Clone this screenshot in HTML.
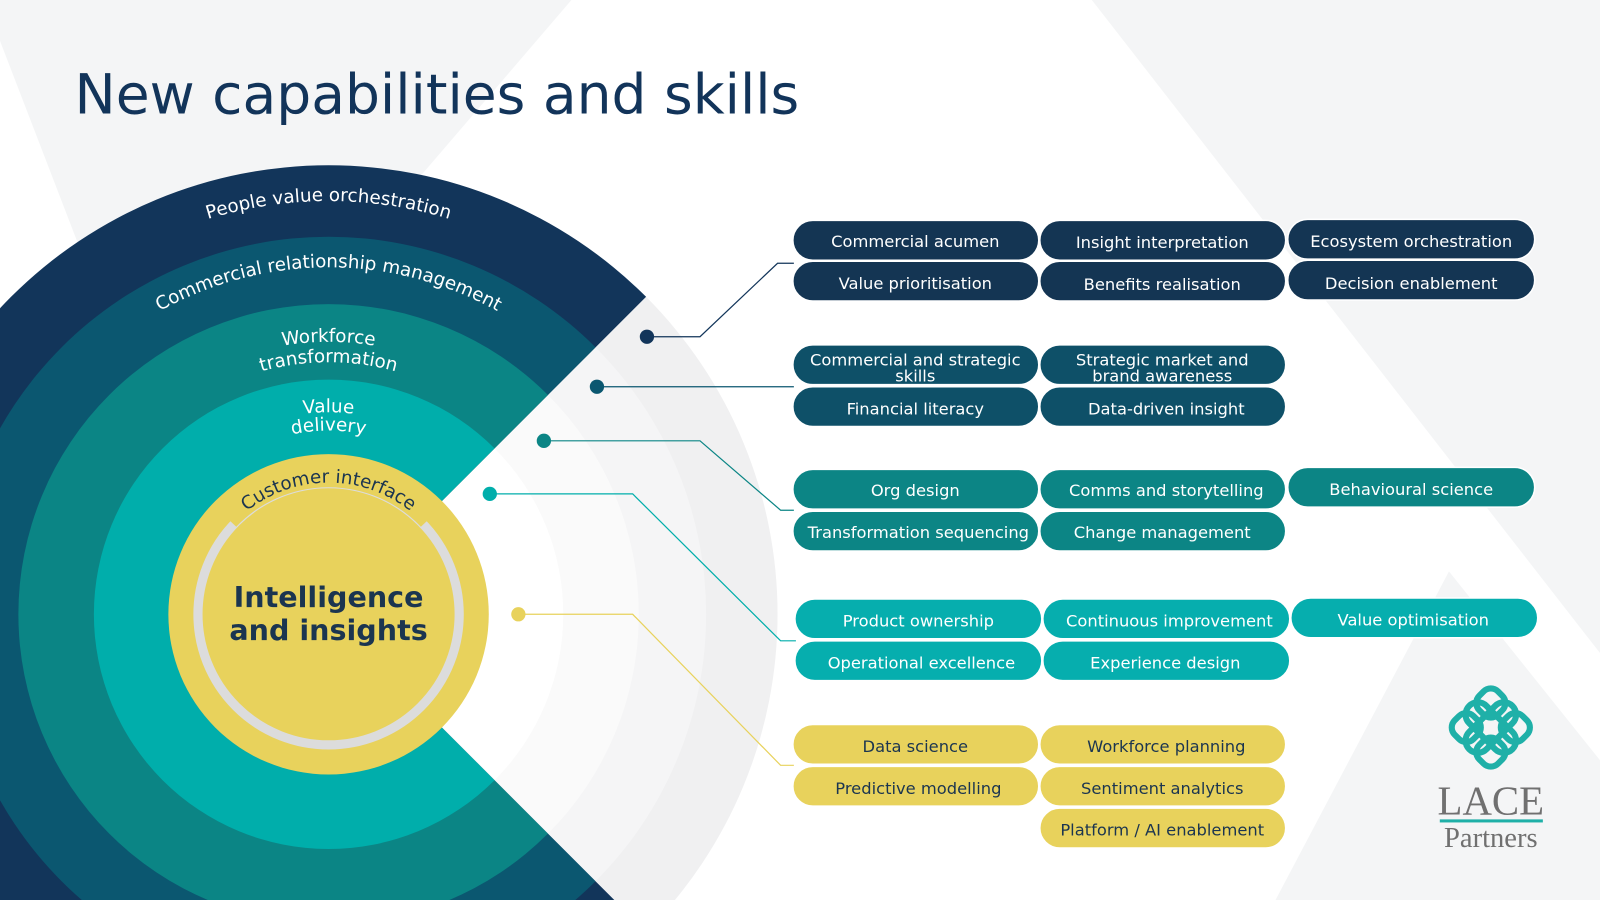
<!DOCTYPE html>
<html><head><meta charset="utf-8"><style>
html,body{margin:0;padding:0;background:#fff;width:1600px;height:900px;overflow:hidden;}
svg{display:block;}
.p{font-family:"DejaVu Sans","Liberation Sans",sans-serif;font-size:16px;fill:#fff;text-anchor:middle;}
</style></head><body>
<svg width="1600" height="900" viewBox="0 0 1568 882" preserveAspectRatio="none" xmlns="http://www.w3.org/2000/svg">
<rect width="1568" height="882" fill="#ffffff"/>
<polygon points="20,0 560,0 380,210 100,300 0,40 0,0" fill="#f4f5f6"/>
<polygon points="1070,0 1568,0 1568,640" fill="#f4f5f6"/>
<polygon points="1420,560 1568,745 1568,882 1250,882" fill="#f4f5f6"/>
<!-- grey rings in wedge -->
<circle cx="322" cy="602" r="440" fill="#f0f0f1"/>
<circle cx="322" cy="602" r="370" fill="#f5f5f6"/>
<circle cx="322" cy="602" r="304" fill="#fafafa"/>
<circle cx="322" cy="602" r="230" fill="#ffffff"/>
<defs>
<clipPath id="cut"><polygon points="322,602 1000,-76 -500,-76 -500,1300 1000,1280"/></clipPath>
<path id="a1" d="M -83 602 A 405 405 0 0 1 727 602"/>
<path id="a2" d="M -18 602 A 340 340 0 0 1 662 602"/>
<path id="a3" d="M 55 602 A 267 267 0 0 1 589 602"/>
<path id="a3b" d="M 75 602 A 247 247 0 0 1 569 602"/>
<path id="a4" d="M 124 602 A 198 198 0 0 1 520 602"/>
<path id="a4b" d="M 142 602 A 180 180 0 0 1 502 602"/>
<path id="a5" d="M 193 602 A 129 129 0 0 1 451 602"/>
</defs>
<g clip-path="url(#cut)">
<circle cx="322" cy="602" r="440" fill="#12355a"/>
<circle cx="322" cy="602" r="370" fill="#0b5770"/>
<circle cx="322" cy="602" r="304" fill="#0b8585"/>
<circle cx="322" cy="602" r="230" fill="#00aeab"/>
</g>
<circle cx="322" cy="602" r="157" fill="#e8d25c"/>
<circle cx="322" cy="602" r="128" fill="none" stroke="#dcdcdc" stroke-width="9"/>
<path d="M 225 510 A 134 134 0 0 1 419 510" fill="none" stroke="#e8d25c" stroke-width="18"/>
<g font-family="DejaVu Sans,Liberation Sans,sans-serif" fill="#fff" text-anchor="middle">
<text font-size="18"><textPath href="#a1" startOffset="50%">People value orchestration</textPath></text>
<text font-size="18"><textPath href="#a2" startOffset="50%">Commercial relationship management</textPath></text>
<text font-size="18"><textPath href="#a3" startOffset="50%">Workforce</textPath></text>
<text font-size="18"><textPath href="#a3b" startOffset="50%">transformation</textPath></text>
<text font-size="18"><textPath href="#a4" startOffset="50%">Value</textPath></text>
<text font-size="18"><textPath href="#a4b" startOffset="50%">delivery</textPath></text>
<text font-size="18" fill="#1b3550"><textPath href="#a5" startOffset="50%">Customer interface</textPath></text>
<text x="322" y="595" font-size="28" font-weight="bold" fill="#1b3550">Intelligence</text>
<text x="322" y="627" font-size="28" font-weight="bold" fill="#1b3550">and insights</text>
</g>
<text x="73" y="111" font-family="DejaVu Sans,Liberation Sans,sans-serif" font-size="54" fill="#12345a">New capabilities and skills</text>
<g fill="none" stroke-width="1.2">
<polyline points="634,330 686,330 762,258 778,258" stroke="#12355a"/>
<polyline points="585,379 778,379" stroke="#0b5770"/>
<polyline points="533,432 686,432 765,500 778,500" stroke="#0b8585"/>
<polyline points="480,484 620,484 765,628 780,628" stroke="#00aeab"/>
<polyline points="508,602 620,602 765,750 778,750" stroke="#e8d25c"/>
</g>
<circle cx="634" cy="330" r="7" fill="#12355a"/>
<circle cx="585" cy="379" r="7" fill="#0b5770"/>
<circle cx="533" cy="432" r="7" fill="#0b8585"/>
<circle cx="480" cy="484" r="7" fill="#00aeab"/>
<circle cx="508" cy="602" r="7" fill="#e8d25c"/>
<g stroke="#ffffff" stroke-width="1.5">
<g fill="#143553">
<rect x="777" y="216" width="241" height="39" rx="19.5"/><rect x="1019" y="216" width="241" height="39" rx="19.5"/><rect x="1262" y="215" width="242" height="39" rx="19.5"/>
<rect x="777" y="256" width="241" height="39" rx="19.5"/><rect x="1019" y="256" width="241" height="39" rx="19.5"/><rect x="1262" y="255" width="242" height="39" rx="19.5"/>
</g>
<g fill="#0e5068">
<rect x="777" y="338" width="241" height="39" rx="19.5"/><rect x="1019" y="338" width="241" height="39" rx="19.5"/>
<rect x="777" y="379" width="241" height="39" rx="19.5"/><rect x="1019" y="379" width="241" height="39" rx="19.5"/>
</g>
<g fill="#0c8585">
<rect x="777" y="460" width="241" height="39" rx="19.5"/><rect x="1019" y="460" width="241" height="39" rx="19.5"/><rect x="1262" y="458" width="242" height="39" rx="19.5"/>
<rect x="777" y="501" width="241" height="39" rx="19.5"/><rect x="1019" y="501" width="241" height="39" rx="19.5"/>
</g>
<g fill="#06aeae">
<rect x="779" y="587" width="242" height="39" rx="19.5"/><rect x="1022" y="587" width="242" height="39" rx="19.5"/><rect x="1265" y="586" width="242" height="39" rx="19.5"/>
<rect x="779" y="628" width="242" height="39" rx="19.5"/><rect x="1022" y="628" width="242" height="39" rx="19.5"/>
</g>
<g fill="#e8d25c">
<rect x="777" y="710" width="241" height="39" rx="19.5"/><rect x="1019" y="710" width="241" height="39" rx="19.5"/>
<rect x="777" y="751" width="241" height="39" rx="19.5"/><rect x="1019" y="751" width="241" height="39" rx="19.5"/>
<rect x="1019" y="792" width="241" height="39" rx="19.5"/>
</g>
</g>
<g class="p">
<text x="897" y="242">Commercial acumen</text><text x="1139" y="243">Insight interpretation</text><text x="1383" y="242">Ecosystem orchestration</text>
<text x="897" y="283">Value prioritisation</text><text x="1139" y="284">Benefits realisation</text><text x="1383" y="283">Decision enablement</text>
<text x="897" y="358">Commercial and strategic</text><text x="897" y="374">skills</text>
<text x="1139" y="358">Strategic market and</text><text x="1139" y="374">brand awareness</text>
<text x="897" y="406">Financial literacy</text><text x="1143" y="406">Data-driven insight</text>
<text x="897" y="486">Org design</text><text x="1143" y="486">Comms and storytelling</text><text x="1383" y="485">Behavioural science</text>
<text x="900" y="527">Transformation sequencing</text><text x="1139" y="527">Change management</text>
<text x="900" y="614">Product ownership</text><text x="1146" y="614">Continuous improvement</text><text x="1385" y="613">Value optimisation</text>
<text x="903" y="655">Operational excellence</text><text x="1142" y="655">Experience design</text>
</g>
<g class="p" style="fill:#1b3550">
<text x="897" y="737">Data science</text><text x="1143" y="737">Workforce planning</text>
<text x="900" y="778">Predictive modelling</text><text x="1139" y="778">Sentiment analytics</text>
<text x="1139" y="819">Platform / AI enablement</text>
</g>
<g fill="none" stroke="#1fb0a8" stroke-width="6" transform="translate(1461,713) rotate(45)">
<rect x="-30" y="-12" width="60" height="24" rx="12"/>
<rect x="-12" y="-30" width="24" height="60" rx="12"/>
<rect x="-30" y="-30" width="26" height="26" rx="10"/>
<rect x="4" y="4" width="26" height="26" rx="10"/>
<rect x="4" y="-30" width="26" height="26" rx="10"/>
<rect x="-30" y="4" width="26" height="26" rx="10"/>
</g>
<text x="1461" y="798" text-anchor="middle" font-family="Liberation Serif,serif" font-size="40" fill="#707070">LACE</text>
<rect x="1411" y="803" width="101" height="3" fill="#1fb0a8"/>
<text x="1461" y="830" text-anchor="middle" font-family="Liberation Serif,serif" font-size="28" fill="#707070">Partners</text>
</svg>
</body></html>
